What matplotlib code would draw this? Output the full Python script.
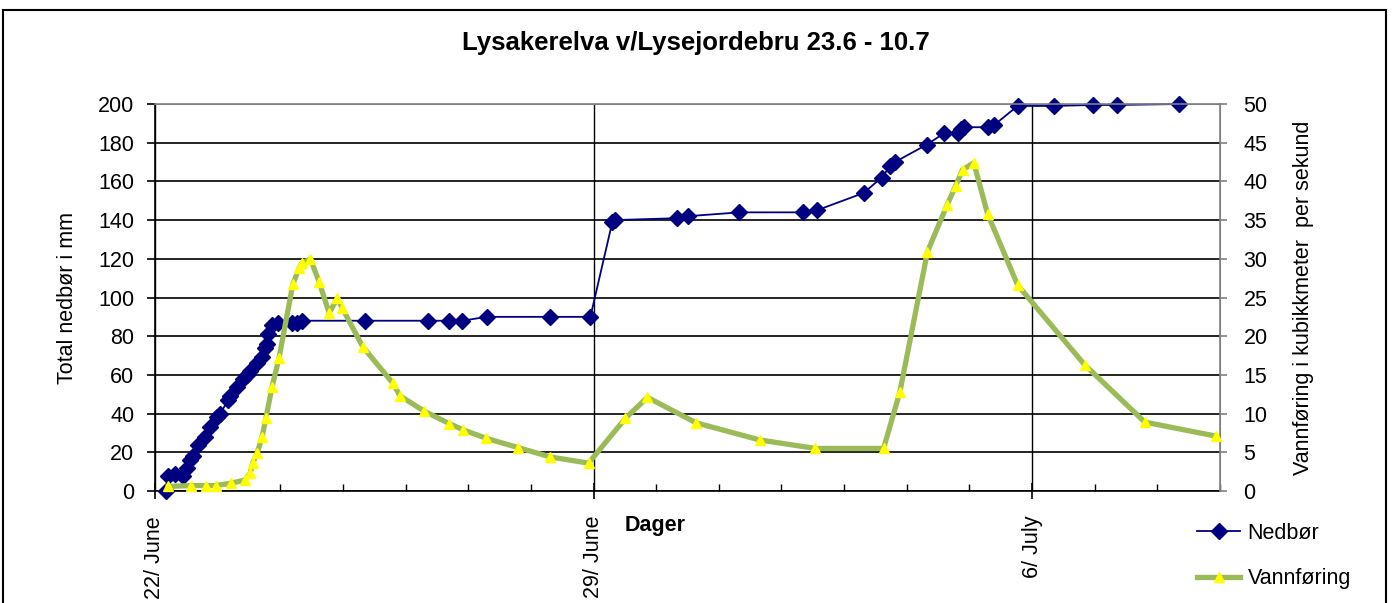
import matplotlib.pyplot as plt
from matplotlib.lines import Line2D
from matplotlib.ticker import MultipleLocator

# -----------------------------
# Data (days after 22 June 00:00)
# -----------------------------
rain_days = [0.17, 0.21, 0.32, 0.45, 0.51, 0.56, 0.61, 0.69, 0.80, 0.88,
             0.99, 1.04, 1.17, 1.20, 1.31, 1.41, 1.47, 1.52, 1.63, 1.71,
             1.76, 1.79, 1.80, 1.87, 1.96, 2.19, 2.27, 2.35, 3.35, 4.35,
             4.70, 4.90, 5.30, 6.31, 6.95, 7.30, 7.34, 8.34, 8.50, 9.33,
             10.35, 10.56, 11.31, 11.60, 11.74, 11.81, 12.32, 12.60, 12.81, 12.86,
             12.92, 13.29, 13.39, 13.77, 14.35, 14.98, 15.35, 16.34]
rain_mm = [0, 8, 9, 8, 12, 16, 18, 24, 28, 33,
           38, 40, 47, 49, 54, 58, 60, 62, 66, 69,
           74, 76, 81, 86, 87, 87, 87, 88, 88, 88,
           88, 88, 90, 90, 90, 139, 140, 141, 142, 144,
           144, 145, 154, 162, 168, 170, 179, 185, 185, 187,
           188, 188, 189, 199, 199, 199.5, 199.5, 200]

flow_days = [0.21, 0.58, 0.81, 0.97, 1.21, 1.43, 1.52, 1.56, 1.63, 1.71,
             1.77, 1.87, 1.98, 2.20, 2.30, 2.34, 2.48, 2.62, 2.78, 2.91,
             2.99, 3.32, 3.80, 3.91, 4.30, 4.70, 4.92, 5.29, 5.80, 6.31,
             6.92, 7.51, 7.86, 8.64, 9.65, 10.54, 11.63, 11.89, 12.33, 12.64,
             12.78, 12.89, 13.07, 13.29, 13.77, 14.84, 15.80, 16.93]
flow_m3s = [0.6, 0.7, 0.7, 0.7, 1.0, 1.4, 2.3, 3.6, 4.9, 7.0,
            9.4, 13.5, 17.2, 26.7, 28.8, 29.4, 30.0, 27.0, 23.0, 24.9,
            23.6, 18.6, 13.9, 12.3, 10.3, 8.7, 7.9, 6.8, 5.6, 4.4,
            3.6, 9.4, 12.1, 8.8, 6.6, 5.5, 5.5, 12.8, 30.9, 36.9,
            39.4, 41.5, 42.4, 35.8, 26.6, 16.3, 8.9, 7.1]

date_ticks = [0, 7, 14]
date_labels = ["22/ June", "29/ June", "6/ July"]

# -----------------------------
# Plot
# -----------------------------
plt.rcParams["font.family"] = ["Liberation Sans", "DejaVu Sans"]

rain_color = "#000080"
flow_color = "#9BBB59"
fs = 15.5

fig = plt.figure(figsize=(13.92, 6.03), dpi=100)
ax = fig.add_axes([155 / 1392, 1 - 491 / 603, (1220 - 155) / 1392, (491 - 104) / 603])
ax2 = ax.twinx()

ax.plot(rain_days, rain_mm, color=rain_color, linewidth=1.3,
        marker="D", markersize=8, markerfacecolor=rain_color,
        markeredgecolor=rain_color, zorder=3, clip_on=False)

ax2.plot(flow_days, flow_m3s, color=flow_color, linewidth=3.8,
         marker="^", markersize=6.5, markerfacecolor="#FFFF00",
         markeredgecolor="#FFFF00", zorder=3, clip_on=False)

ax.set_xlim(0, 17)
ax.set_ylim(0, 200)
ax2.set_ylim(0, 50)

ax.set_yticks(range(0, 201, 20))
ax2.set_yticks(range(0, 51, 5))
ax.set_xticks(date_ticks)
ax.set_xticklabels(date_labels, rotation=90, va="top", ha="center")
ax.xaxis.set_minor_locator(MultipleLocator(1))

ax.grid(axis="y", color="black", linewidth=1.2, zorder=0)
ax.grid(axis="x", which="major", color="black", linewidth=1.0, zorder=0)
ax.set_axisbelow(True)

for s in ["left", "bottom"]:
    ax.spines[s].set_color("black")
    ax.spines[s].set_linewidth(1.2)
for s in ["top", "right"]:
    ax.spines[s].set_color("#808080")
    ax2.spines[s].set_color("#808080")
    ax2.spines[s].set_linewidth(1.2)
ax2.spines["left"].set_visible(False)
ax2.spines["bottom"].set_visible(False)

ax.tick_params(axis="y", direction="out", length=6, width=1.2, pad=9, labelsize=fs)
ax2.tick_params(axis="y", direction="out", length=5, width=1.2, color="#808080",
                pad=12, labelsize=fs)
ax.tick_params(axis="x", which="major", direction="inout", length=12, width=1.2,
               pad=12, labelsize=fs)
ax.tick_params(axis="x", which="minor", direction="in", length=5, width=1.0)

ax.set_ylabel("Total nedbør i mm", fontsize=fs, labelpad=14)
ax2.set_ylabel("Vannføring i kubikkmeter  per sekund", fontsize=fs, labelpad=18)

fig.text(655 / 1392, 1 - 525 / 603, "Dager", ha="center", va="center",
         fontsize=fs, fontweight="bold")

fig.text(0.5, 1 - 43 / 603, "Lysakerelva v/Lysejordebru 23.6 - 10.7",
         ha="center", va="center", fontsize=18.5, fontweight="bold")

# legend
handles = [
    Line2D([], [], color=rain_color, linewidth=1.3, marker="D", markersize=8,
           markerfacecolor=rain_color, markeredgecolor=rain_color),
    Line2D([], [], color=flow_color, linewidth=3.8, marker="^", markersize=6.5,
           markerfacecolor="#FFFF00", markeredgecolor="#FFFF00"),
]
fig.legend(handles, ["Nedbør", "Vannføring"], loc="center left",
           bbox_to_anchor=(1197 / 1392, 1 - 556 / 603), frameon=False,
           fontsize=fs, handlelength=2.0, handletextpad=0.35, labelspacing=1.15,
           borderpad=0, borderaxespad=0)

# outer border of chart area
border = dict(color="black", linewidth=1.5, transform=fig.transFigure)
fig.add_artist(Line2D([3 / 1392, 3 / 1392], [0, 1 - 10 / 603], **border))
fig.add_artist(Line2D([3 / 1392, 1386 / 1392], [1 - 10 / 603, 1 - 10 / 603], **border))
fig.add_artist(Line2D([1386 / 1392, 1386 / 1392], [0, 1 - 10 / 603], **border))

plt.savefig("out.png", dpi=100, facecolor="white")
